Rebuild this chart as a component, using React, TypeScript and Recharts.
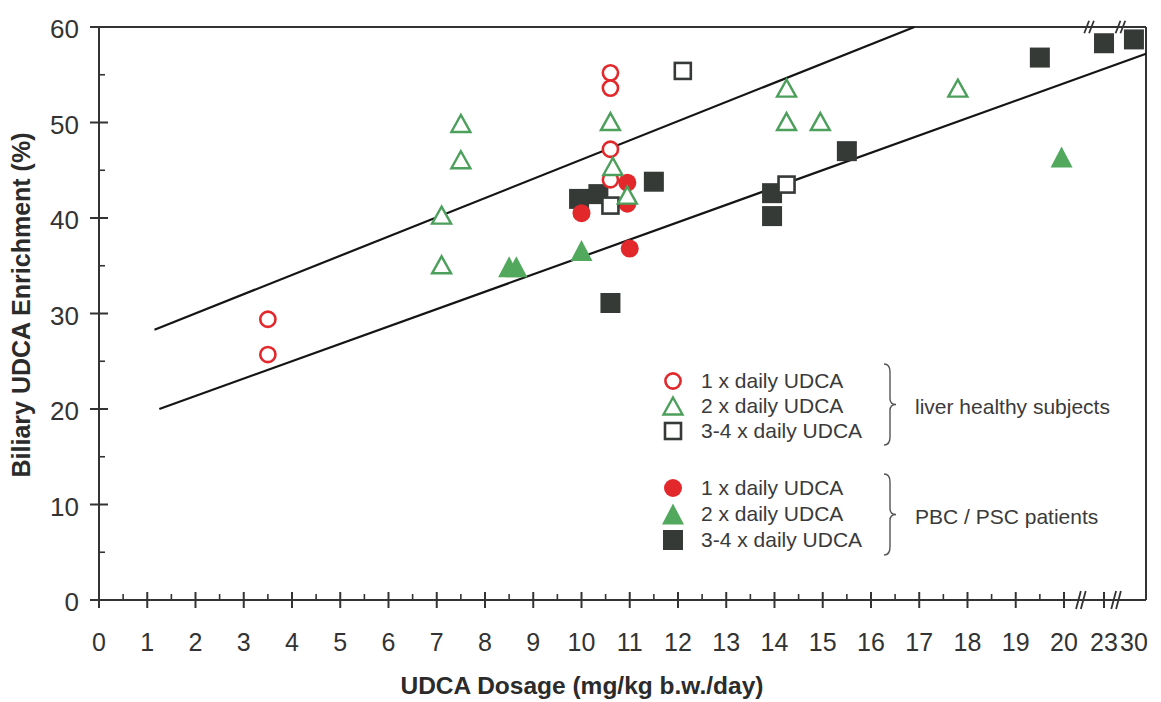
import React from 'react';
import { ScatterChart, Scatter, XAxis, YAxis, ReferenceLine } from 'recharts';

const W = 1161;
const H = 702;
const FONT = '"Liberation Sans", Arial, Helvetica, sans-serif';
const RED = '#e3282c';
const GREEN_LINE = '#4d9f5c';
const GREEN_FILL = '#52a95e';
const DARK = '#363a37';
const AXIS = '#333333';

// ---- broken x-axis: positions used for doses beyond 20 mg/kg ----
const BREAK_POS: Record<number, number> = { 23: 20.83, 30: 21.45 };
const X_MAX = 21.7;
const xPos = (d: number) => (d <= 20 ? d : BREAK_POS[d]);

// ---- tick labels ----
const xMajorLabels = [0, 1, 2, 3, 4, 5, 6, 7, 8, 9, 10, 11, 12, 13, 14, 15, 16, 17, 18, 19, 20, 23, 30];
const xMinorTicks = [0.5, 1.5, 2.5, 3.5, 4.5, 5.5, 6.5, 7.5, 8.5, 9.5, 10.5, 11.5, 12.5, 13.5, 14.5, 15.5, 16.5, 17.5, 18.5, 19.5];
const yMajorTicks = [0, 10, 20, 30, 40, 50, 60];
const yMinorTicks = [5, 15, 25, 35, 45, 55];

// ---- data: [dose mg/kg/day, biliary UDCA enrichment %] ----
const healthy1x: [number, number][] = [
  [3.5, 29.4], [3.5, 25.7], [10.6, 55.2], [10.6, 53.6], [10.6, 47.2], [10.6, 44.0],
];
const healthy2x: [number, number][] = [
  [7.1, 40.3], [7.1, 35.1], [7.5, 49.9], [7.5, 46.1], [10.6, 50.1], [10.65, 45.4],
  [10.95, 42.4], [14.25, 53.6], [14.25, 50.1], [14.95, 50.1], [17.8, 53.6],
];
const healthy34x: [number, number][] = [
  [12.1, 55.4], [10.6, 41.3], [14.25, 43.5],
];
const pbc1x: [number, number][] = [
  [10.0, 40.5], [10.95, 43.7], [10.95, 41.5], [11.0, 36.8],
];
const pbc2x: [number, number][] = [
  [8.5, 34.9], [8.65, 34.9], [10.0, 36.6], [19.95, 46.4],
];
const pbc34x: [number, number][] = [
  [9.95, 42.0], [10.35, 42.5], [11.5, 43.8], [10.6, 31.1], [13.95, 42.6], [13.95, 40.2],
  [15.5, 47.0], [19.5, 56.8], [23, 58.3], [30, 58.7],
];
// regression lines (end points)
const upperLine: [number, number][] = [[1.15, 28.3], [16.9, 60]];
const lowerLine: [number, number][] = [[1.25, 20.0], [20.48, 57.2]];

const toPts = (arr: [number, number][]) => arr.map(([d, e]) => ({ x: xPos(d), y: e, dose: d }));

const xTickPositions = [...xMajorLabels.map(xPos), ...xMinorTicks];
const xLabelByPos = new Map<number, string>(xMajorLabels.map((d) => [xPos(d), String(d)]));

// ---- marker shapes ----
const OpenCircle = (p: any) => (
  <circle cx={p.cx} cy={p.cy} r={7.6} fill="#fff" stroke={RED} strokeWidth={2.6} />
);
const FilledCircle = (p: any) => <circle cx={p.cx} cy={p.cy} r={9} fill={RED} />;
const triPath = (cx: number, cy: number, hw: number, hh: number) =>
  `M${cx},${cy - hh} L${cx + hw},${cy + hh} L${cx - hw},${cy + hh} Z`;
const OpenTriangle = (p: any) => (
  <path d={triPath(p.cx, p.cy, 9.5, 8.5)} fill="#fff" stroke={GREEN_LINE} strokeWidth={2.4} strokeLinejoin="miter" />
);
const FilledTriangle = (p: any) => <path d={triPath(p.cx, p.cy, 11, 10.5)} fill={GREEN_FILL} />;
const OpenSquare = (p: any) => (
  <rect x={p.cx - 8} y={p.cy - 8} width={16} height={16} fill="#fff" stroke={DARK} strokeWidth={2.6} />
);
const FilledSquare = (p: any) => <rect x={p.cx - 10} y={p.cy - 10} width={20} height={20} fill={DARK} />;

// ---- axis ticks ----
const XTick = (props: any) => {
  const { x, y, payload } = props;
  const v = payload.value;
  const label = xLabelByPos.get(v);
  if (label === undefined) {
    return <line x1={x} x2={x} y1={y} y2={y - 6} stroke={AXIS} strokeWidth={1.6} />;
  }
  return (
    <g>
      {label !== '30' && <line x1={x} x2={x} y1={y - 8} y2={y + 8} stroke={AXIS} strokeWidth={2} />}
      <text x={x} y={y + 51} textAnchor="middle" fontFamily={FONT} fontSize={25} fill="#333">
        {label}
      </text>
    </g>
  );
};

const YTick = (props: any) => {
  const { x, y, payload } = props;
  const v = payload.value;
  if (v % 10 !== 0) {
    return <line x1={x} x2={x + 6} y1={y} y2={y} stroke={AXIS} strokeWidth={1.6} />;
  }
  return (
    <g>
      <line x1={x - 9} x2={x + 9} y1={y} y2={y} stroke={AXIS} strokeWidth={2} />
      <text x={x - 20} y={y + 11} textAnchor="end" fontFamily={FONT} fontSize={26} fill="#333">
        {v}
      </text>
    </g>
  );
};

const XTitle = () => (
  <text x={582} y={694} textAnchor="middle" fontFamily={FONT} fontWeight="bold" fontSize={24.5} fill="#2b2b2b">
    UDCA Dosage (mg/kg b.w./day)
  </text>
);
const YTitle = () => (
  <text
    x={30}
    y={305}
    transform="rotate(-90 30 305)"
    textAnchor="middle"
    fontFamily={FONT}
    fontWeight="bold"
    fontSize={25}
    fill="#2b2b2b"
  >
    Biliary UDCA Enrichment (%)
  </text>
);

// break marks
const slash = (xc: number, yc: number, dx: number, dy: number) => [
  { x: xc - dx, y: yc - dy },
  { x: xc + dx, y: yc + dy },
];
const bottomBreaks = [20.3, 20.4, 21.03, 21.13];
const topBreaks = [20.47, 20.57, 21.12, 21.22];

const legendRows = [
  { y: 381, label: '1 x daily UDCA', shape: 'oc' },
  { y: 406, label: '2 x daily UDCA', shape: 'ot' },
  { y: 431, label: '3-4 x daily UDCA', shape: 'os' },
  { y: 488, label: '1 x daily UDCA', shape: 'fc' },
  { y: 514, label: '2 x daily UDCA', shape: 'ft' },
  { y: 540, label: '3-4 x daily UDCA', shape: 'fs' },
];

const legendMarker = (shape: string, cx: number, cy: number) => {
  switch (shape) {
    case 'oc':
      return <OpenCircle cx={cx} cy={cy} />;
    case 'ot':
      return <OpenTriangle cx={cx} cy={cy} />;
    case 'os':
      return <OpenSquare cx={cx} cy={cy} />;
    case 'fc':
      return <FilledCircle cx={cx} cy={cy} />;
    case 'ft':
      return <FilledTriangle cx={cx} cy={cy} />;
    default:
      return <FilledSquare cx={cx} cy={cy} />;
  }
};

const brace = (x: number, y1: number, y2: number) => {
  const ym = (y1 + y2) / 2;
  return `M${x - 6},${y1} Q${x},${y1} ${x},${y1 + 8} L${x},${ym - 6} Q${x},${ym} ${x + 6},${ym} Q${x},${ym} ${x},${ym + 6} L${x},${y2 - 8} Q${x},${y2} ${x - 6},${y2}`;
};

export default function App() {
  return (
    <div style={{ position: 'absolute', left: 0, top: 0, width: W, height: H, background: '#fff' }}>
      <ScatterChart width={W} height={H} margin={{ top: 27, right: W - 1146, bottom: 0, left: 0 }}>
        <XAxis
          type="number"
          dataKey="x"
          domain={[0, X_MAX]}
          ticks={xTickPositions}
          interval={0}
          allowDataOverflow
          height={102}
          tickSize={0}
          tickMargin={0}
          tickLine={false}
          tick={<XTick />}
          axisLine={{ stroke: AXIS, strokeWidth: 2 }}
          label={<XTitle />}
        />
        <YAxis
          type="number"
          dataKey="y"
          domain={[0, 60]}
          ticks={[...yMajorTicks, ...yMinorTicks]}
          interval={0}
          allowDataOverflow
          width={99}
          tickSize={0}
          tickMargin={0}
          tickLine={false}
          tick={<YTick />}
          axisLine={{ stroke: AXIS, strokeWidth: 2 }}
          label={<YTitle />}
        />
        <ReferenceLine y={60} stroke={AXIS} strokeWidth={2} ifOverflow="visible" />
        <ReferenceLine x={X_MAX} stroke={AXIS} strokeWidth={2} ifOverflow="visible" />
        {bottomBreaks.map((b) => (
          <ReferenceLine key={'b' + b} segment={slash(b, 0, 0.05, 0.95)} stroke={AXIS} strokeWidth={1.8} ifOverflow="visible" />
        ))}
        {topBreaks.map((b) => (
          <ReferenceLine key={'t' + b} segment={slash(b, 60, 0.05, 0.65)} stroke={AXIS} strokeWidth={1.8} ifOverflow="visible" />
        ))}
        <Scatter name="PBC/PSC 3-4x" data={toPts(pbc34x)} shape={FilledSquare} isAnimationActive={false} />
        <Scatter name="PBC/PSC 1x" data={toPts(pbc1x)} shape={FilledCircle} isAnimationActive={false} />
        <Scatter name="PBC/PSC 2x" data={toPts(pbc2x)} shape={FilledTriangle} isAnimationActive={false} />
        <Scatter name="healthy 3-4x" data={toPts(healthy34x)} shape={OpenSquare} isAnimationActive={false} />
        <Scatter name="healthy 1x" data={toPts(healthy1x)} shape={OpenCircle} isAnimationActive={false} />
        <Scatter name="healthy 2x" data={toPts(healthy2x)} shape={OpenTriangle} isAnimationActive={false} />
        <ReferenceLine
          segment={toPts(upperLine).map(({ x, y }) => ({ x, y }))}
          stroke="#151515"
          strokeWidth={2.2}
          ifOverflow="visible"
        />
        <ReferenceLine
          segment={toPts(lowerLine).map(({ x, y }) => ({ x, y }))}
          stroke="#151515"
          strokeWidth={2.2}
          ifOverflow="visible"
        />
      </ScatterChart>
      <svg
        width={W}
        height={H}
        style={{ position: 'absolute', left: 0, top: 0, pointerEvents: 'none' }}
      >
        {legendRows.map((r, i) => (
          <g key={i}>
            {legendMarker(r.shape, 673, r.y)}
            <text x={701} y={r.y + 7} fontFamily={FONT} fontSize={21} fill="#3a3a3a">
              {r.label}
            </text>
          </g>
        ))}
        <path d={brace(890, 364, 445)} fill="none" stroke="#555" strokeWidth={1.4} />
        <path d={brace(890, 474, 555)} fill="none" stroke="#555" strokeWidth={1.4} />
        <text x={915} y={414} fontFamily={FONT} fontSize={21} fill="#3a3a3a">
          liver healthy subjects
        </text>
        <text x={915} y={524} fontFamily={FONT} fontSize={21} fill="#3a3a3a">
          PBC / PSC patients
        </text>
      </svg>
    </div>
  );
}
